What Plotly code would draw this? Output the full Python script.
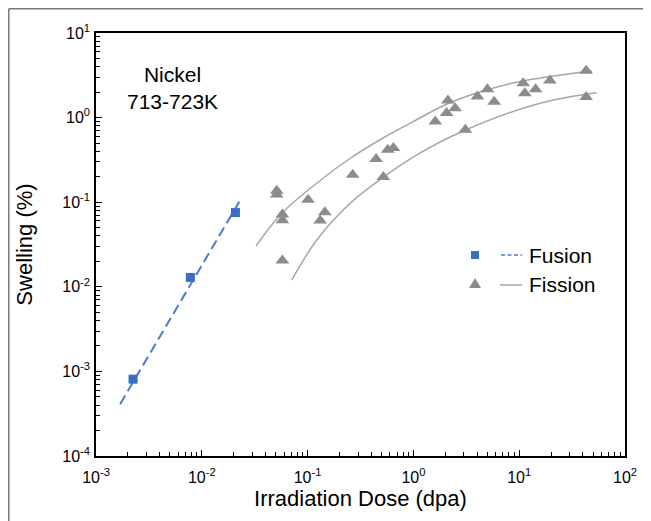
import plotly.graph_objects as go

# Fusion data (squares) and dashed fit line
fusion_x = [0.00224, 0.0078, 0.0208]
fusion_y = [0.00081, 0.0129, 0.0754]
fusion_fit_x = [0.00169, 0.0238]
fusion_fit_y = [0.00041, 0.113]

# Fission data (triangles)
fission_x = [0.0511, 0.0511, 0.0578, 0.0578, 0.0578, 0.101, 0.1455, 0.1315, 0.267, 0.444,
             0.520, 0.573, 0.647, 1.61, 2.06, 2.12, 2.48, 3.10, 4.03, 5.01,
             5.80, 10.9, 11.3, 14.3, 19.5, 42.9, 42.9]
fission_y = [0.137, 0.123, 0.0714, 0.0612, 0.0205, 0.107, 0.076, 0.0607, 0.211, 0.324,
             0.199, 0.417, 0.437, 0.90, 1.13, 1.59, 1.29, 0.718, 1.77, 2.17,
             1.54, 2.55, 1.94, 2.17, 2.74, 3.59, 1.75]

# Fission envelope curves
upper_x = [0.0325, 0.0573, 0.1228, 0.2517, 0.516, 1.082, 2.078, 4.548, 10.18, 48.8]
upper_y = [0.0303, 0.0745, 0.1687, 0.3285, 0.574, 0.949, 1.448, 2.062, 2.671, 3.554]
lower_x = [0.0708, 0.122, 0.252, 0.501, 1.07, 2.96, 15.7, 54.0]
lower_y = [0.0120, 0.0357, 0.097, 0.191, 0.361, 0.695, 1.48, 1.97]

x_tickvals = [1e-3, 1e-2, 1e-1, 1, 10, 100]
x_ticktext = ["10<sup>-3</sup>", "10<sup>-2</sup>", "10<sup>-1</sup>", "10<sup>0</sup>", "10<sup>1</sup>", "10<sup>2</sup>"]
y_tickvals = [1e-4, 1e-3, 1e-2, 1e-1, 1, 10]
y_ticktext = ["10<sup>-4</sup>", "10<sup>-3</sup>", "10<sup>-2</sup>", "10<sup>-1</sup>", "10<sup>0</sup>", "10<sup>1</sup>"]

x_minor = [m * 10.0 ** e for e in range(-3, 2) for m in range(2, 10)]
y_minor = [m * 10.0 ** e for e in range(-4, 1) for m in range(2, 10)]

BLUE = "#3A6DC4"
GRAY = "#8C8C8C"
LGRAY = "#A6A6A6"
FONT = "Arial, Liberation Sans, sans-serif"

fig = go.Figure()
fig.add_trace(go.Scatter(x=upper_x, y=upper_y, mode="lines", line=dict(color=LGRAY, width=1.5, shape="spline"), showlegend=False))
fig.add_trace(go.Scatter(x=lower_x, y=lower_y, mode="lines", line=dict(color=LGRAY, width=1.5, shape="spline"), showlegend=False))
fig.add_trace(go.Scatter(x=fusion_fit_x, y=fusion_fit_y, mode="lines", line=dict(color="#4A7BD0", width=2, dash="10px,5px"), showlegend=False))
fig.add_trace(go.Scatter(x=fission_x, y=fission_y, mode="markers",
                         marker=dict(symbol="triangle-up", size=12, color=GRAY), showlegend=False))
fig.add_trace(go.Scatter(x=fusion_x, y=fusion_y, mode="markers",
                         marker=dict(symbol="square", size=9, color=BLUE), showlegend=False))

axis_common = dict(
    type="log", showgrid=False, zeroline=False,
    showline=True, linecolor="black", linewidth=1.5, mirror=True,
    ticks="inside", ticklen=6, tickcolor="black", tickwidth=1,
    tickfont=dict(family=FONT, size=16, color="black"),
)

fig.update_xaxes(**axis_common, range=[-3, 2], tickvals=x_tickvals, ticktext=x_ticktext,
                 minor=dict(ticks="inside", ticklen=4, tickcolor="black", tickwidth=1, showgrid=False, tickvals=x_minor),
                 ticklabelstandoff=6,
                 title=dict(text="Irradiation Dose (dpa)", font=dict(family=FONT, size=22, color="black"), standoff=6))
fig.update_yaxes(**axis_common, range=[-4, 1], tickvals=y_tickvals, ticktext=y_ticktext,
                 minor=dict(ticks="inside", ticklen=4, tickcolor="black", tickwidth=1, showgrid=False, tickvals=y_minor),
                 ticklabelstandoff=1,
                 title=dict(text="Swelling (%)", font=dict(family=FONT, size=22, color="black"), standoff=24))

# page has an 8px body margin; plot area spans page x 96..625, y 33..456
def px2paper(px, py):
    return (px - 96) / 529.0, (456 - py) / 423.0

shapes = []
# outer partial frame (left + top)
x0, y0 = px2paper(8.8, 521)
x1, y1 = px2paper(8.8, 8.8)
x2, _ = px2paper(651, 8.8)
shapes.append(dict(type="line", xref="paper", yref="paper", x0=x0, y0=y0, x1=x1, y1=y1, line=dict(color="#777777", width=1.5)))
shapes.append(dict(type="line", xref="paper", yref="paper", x0=x1, y0=y1, x1=x2, y1=y1, line=dict(color="#777777", width=1.5)))

# custom legend
sx0, sy0 = px2paper(471, 259)
sx1, sy1 = px2paper(479, 251)
shapes.append(dict(type="rect", xref="paper", yref="paper", x0=sx0, y0=sy0, x1=sx1, y1=sy1, fillcolor=BLUE, line=dict(width=0)))
lx0, ly = px2paper(501, 255)
lx1, _ = px2paper(522, 255)
shapes.append(dict(type="line", xref="paper", yref="paper", x0=lx0, y0=ly, x1=lx1, y1=ly, line=dict(color="#4A7BD0", width=1.5, dash="4px,2.5px")))
tx0, ty0 = px2paper(469, 288)
tx1, ty1 = px2paper(481, 288)
tx2, ty2 = px2paper(475, 278)
shapes.append(dict(type="path", xref="paper", yref="paper",
                   path=f"M {tx0} {ty0} L {tx1} {ty1} L {tx2} {ty2} Z", fillcolor=GRAY, line=dict(width=0)))
fx0, fy = px2paper(500, 285)
fx1, _ = px2paper(522, 285)
shapes.append(dict(type="line", xref="paper", yref="paper", x0=fx0, y0=fy, x1=fx1, y1=fy, line=dict(color=LGRAY, width=1.5)))

annotations = []
ax_, ay_ = px2paper(527, 255)
annotations.append(dict(xref="paper", yref="paper", x=ax_, y=ay_, text="Fusion", showarrow=False,
                        xanchor="left", yanchor="middle", font=dict(family=FONT, size=21, color="black")))
ax_, ay_ = px2paper(527, 284)
annotations.append(dict(xref="paper", yref="paper", x=ax_, y=ay_, text="Fission", showarrow=False,
                        xanchor="left", yanchor="middle", font=dict(family=FONT, size=21, color="black")))
ax_, ay_ = px2paper(172, 88)
annotations.append(dict(xref="paper", yref="paper", x=ax_, y=ay_, text="Nickel<br>713-723K", showarrow=False,
                        xanchor="center", yanchor="middle", align="center", font=dict(family=FONT, size=21, color="black")))

fig.update_layout(
    width=643, height=513,
    margin=dict(l=88, r=26, t=25, b=65, autoexpand=False),
    paper_bgcolor="white", plot_bgcolor="white",
    shapes=shapes, annotations=annotations, showlegend=False,
    font=dict(family=FONT, color="black"),
)

fig.write_html("out.html")
